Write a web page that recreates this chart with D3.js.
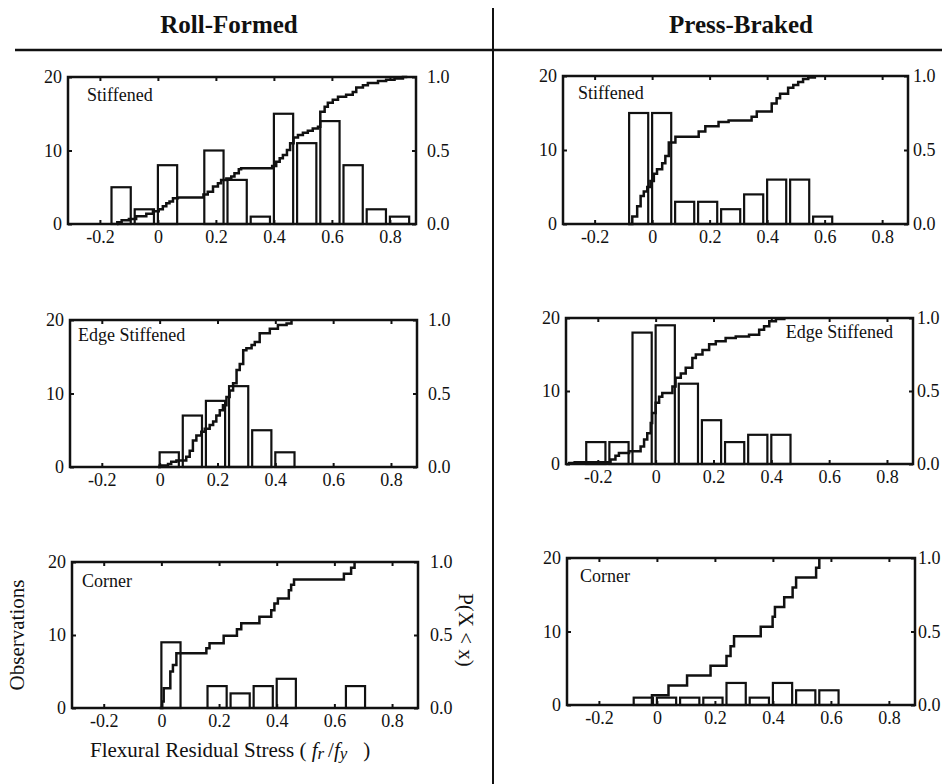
<!DOCTYPE html>
<html>
<head>
<meta charset="utf-8">
<script src="https://cdn.jsdelivr.net/npm/d3@7"></script>
<style>
  body { margin: 0; background: #fff; }
  svg text { font-family: "Liberation Serif", "Times New Roman", serif; fill: #111; }
</style>
</head>
<body>
<svg id="chart" width="952" height="784"></svg>
<script>
// histogram bins (left edges) shared by all panels, bin width 0.08
const binStarts = [-0.24, -0.16, -0.08, 0, 0.08, 0.16, 0.24, 0.32, 0.40, 0.48, 0.56, 0.64, 0.72, 0.80];
const binWidth = 0.08;

// observation counts per bin
const rfStiffenedCounts = [0, 5, 2, 8, 0, 10, 6, 1, 15, 11, 14, 8, 2, 1];
const pbStiffenedCounts = [0, 0, 15, 15, 3, 3, 2, 4, 6, 6, 1, 0, 0, 0];
const rfEdgeCounts      = [0, 0, 0, 2, 7, 9, 11, 5, 2, 0, 0, 0, 0, 0];
const pbEdgeCounts      = [3, 3, 18, 19, 11, 6, 3, 4, 4, 0, 0, 0, 0, 0];
const rfCornerCounts    = [0, 0, 0, 9, 0, 3, 2, 3, 4, 0, 0, 3, 0, 0];
const pbCornerCounts    = [0, 0, 1, 1, 1, 1, 3, 1, 3, 2, 2, 0, 0, 0];

// cumulative probability steps [x, P(X < x)]
const rfStiffenedCdf = [[-0.141, 0], [-0.14, 0.012], [-0.125, 0.025], [-0.10, 0.034], [-0.075, 0.052], [-0.04, 0.07],
  [-0.017, 0.086], [0.003, 0.10], [0.017, 0.12], [0.029, 0.142], [0.04, 0.153], [0.052, 0.176], [0.069, 0.18],
  [0.157, 0.20], [0.172, 0.22], [0.19, 0.255], [0.207, 0.278], [0.218, 0.30], [0.236, 0.31], [0.253, 0.323],
  [0.264, 0.345], [0.279, 0.372], [0.287, 0.379], [0.394, 0.395], [0.408, 0.424], [0.42, 0.447], [0.431, 0.47],
  [0.445, 0.503], [0.456, 0.549], [0.468, 0.589], [0.483, 0.605], [0.50, 0.62], [0.517, 0.634], [0.534, 0.65],
  [0.552, 0.661], [0.56, 0.763], [0.575, 0.797], [0.586, 0.824], [0.603, 0.846], [0.621, 0.865], [0.649, 0.88],
  [0.672, 0.898], [0.684, 0.928], [0.707, 0.944], [0.724, 0.959], [0.759, 0.973], [0.787, 0.982], [0.816, 0.989],
  [0.845, 1.0], [0.86, 1.0]];
const pbStiffenedCdf = [[-0.083, 0], [-0.069, 0.05], [-0.052, 0.12], [-0.04, 0.19], [-0.029, 0.22], [-0.017, 0.25],
  [-0.006, 0.29], [0.006, 0.34], [0.017, 0.37], [0.035, 0.41], [0.046, 0.46], [0.058, 0.55], [0.081, 0.59],
  [0.162, 0.625], [0.185, 0.66], [0.231, 0.69], [0.266, 0.70], [0.346, 0.725], [0.364, 0.76], [0.416, 0.815],
  [0.433, 0.85], [0.445, 0.88], [0.473, 0.92], [0.491, 0.94], [0.508, 0.96], [0.525, 0.98], [0.543, 0.99],
  [0.566, 1.0]];
const rfEdgeCdf = [[-0.006, 0], [0.0, 0.01], [0.029, 0.02], [0.04, 0.035], [0.058, 0.045], [0.092, 0.07],
  [0.104, 0.11], [0.115, 0.18], [0.127, 0.215], [0.144, 0.24], [0.156, 0.26], [0.173, 0.285], [0.185, 0.31],
  [0.196, 0.35], [0.208, 0.386], [0.219, 0.42], [0.231, 0.477], [0.242, 0.52], [0.254, 0.57], [0.266, 0.66],
  [0.277, 0.70], [0.289, 0.795], [0.30, 0.807], [0.318, 0.83], [0.329, 0.85], [0.346, 0.91], [0.381, 0.94],
  [0.409, 0.966], [0.439, 0.977], [0.456, 1.0]];
const pbEdgeCdf = [[-0.303, 0.007], [-0.28, 0.012], [-0.156, 0.03], [-0.139, 0.057], [-0.127, 0.075], [-0.092, 0.087],
  [-0.052, 0.12], [-0.04, 0.167], [-0.029, 0.21], [-0.017, 0.28], [-0.012, 0.35], [0.0, 0.42], [0.012, 0.46],
  [0.023, 0.486], [0.058, 0.53], [0.069, 0.59], [0.087, 0.62], [0.104, 0.66], [0.127, 0.726], [0.139, 0.75],
  [0.162, 0.78], [0.185, 0.82], [0.208, 0.84], [0.242, 0.863], [0.277, 0.874], [0.323, 0.886], [0.358, 0.92],
  [0.375, 0.943], [0.393, 0.977], [0.416, 0.993], [0.445, 1.0]];
const rfCornerCdf = [[-0.006, 0], [0.003, 0.045], [0.008, 0.136], [0.031, 0.25], [0.04, 0.295], [0.052, 0.375],
  [0.156, 0.41], [0.167, 0.443], [0.216, 0.495], [0.262, 0.54], [0.277, 0.58], [0.34, 0.625], [0.381, 0.67],
  [0.392, 0.716], [0.404, 0.75], [0.442, 0.806], [0.45, 0.845], [0.46, 0.88], [0.633, 0.92], [0.658, 0.96],
  [0.67, 1.0]];
const pbCornerCdf = [[-0.017, 0], [-0.017, 0.067], [0.04, 0.133], [0.104, 0.2], [0.185, 0.267], [0.24, 0.333],
  [0.254, 0.4], [0.266, 0.467], [0.358, 0.533], [0.399, 0.6], [0.407, 0.667], [0.439, 0.733], [0.468, 0.8],
  [0.48, 0.867], [0.549, 0.933], [0.56, 1.0]];

// axis ticks
const xTicks = [-0.2, 0, 0.2, 0.4, 0.6, 0.8];
const xTickLabels = ["-0.2", "0", "0.2", "0.4", "0.6", "0.8"];
const obsTicks = [0, 10, 20];
const probTicks = [0, 0.5, 1.0];

const ink = "#111";
const serif = '"Liberation Serif", "Times New Roman", serif';
const svg = d3.select("#chart");

// column headers and dividers
svg.append("text").attr("x", 229).attr("y", 33).attr("text-anchor", "middle")
  .style("font-size", "25px").style("font-weight", "bold").text("Roll-Formed");
svg.append("text").attr("x", 741).attr("y", 33).attr("text-anchor", "middle")
  .style("font-size", "25px").style("font-weight", "bold").text("Press-Braked");
svg.append("line").attr("x1", 15).attr("x2", 942).attr("y1", 50).attr("y2", 50)
  .attr("stroke", ink).attr("stroke-width", 2.5);
svg.append("line").attr("x1", 493).attr("x2", 493).attr("y1", 8).attr("y2", 784)
  .attr("stroke", ink).attr("stroke-width", 2);

const panels = [
  { left: 68, top: 77, w: 348, h: 147, rpad: 11, counts: rfStiffenedCounts, cdf: rfStiffenedCdf, label: "Stiffened", lx: 19, ly: 24, anchor: "start" },
  { left: 563, top: 76, w: 345, h: 148, rpad: 5, counts: pbStiffenedCounts, cdf: pbStiffenedCdf, label: "Stiffened", lx: 15, ly: 23, anchor: "start" },
  { left: 70, top: 320, w: 347, h: 147, rpad: 11, counts: rfEdgeCounts, cdf: rfEdgeCdf, label: "Edge Stiffened", lx: 8, ly: 21, anchor: "start" },
  { left: 566, top: 318, w: 347, h: 146, rpad: 4, counts: pbEdgeCounts, cdf: pbEdgeCdf, label: "Edge Stiffened", lx: 327, ly: 20, anchor: "end" },
  { left: 72, top: 562, w: 346, h: 146, rpad: 12, counts: rfCornerCounts, cdf: rfCornerCdf, label: "Corner", lx: 10, ly: 25, anchor: "start" },
  { left: 567, top: 558, w: 348, h: 147, rpad: 3, counts: pbCornerCounts, cdf: pbCornerCdf, label: "Corner", lx: 13, ly: 24, anchor: "start" }
];

function styleAxis(sel) {
  sel.attr("font-family", null).attr("font-size", null);
  sel.select(".domain").remove();
  sel.selectAll(".tick line").attr("stroke", ink).attr("stroke-width", 2);
  sel.selectAll(".tick text").style("font-family", serif).style("font-size", "18px").attr("fill", ink);
}

function drawPanel(p) {
  const g = svg.append("g").attr("transform", `translate(${p.left},${p.top})`);
  const x = d3.scaleLinear().domain([-0.31, 0.89]).range([0, p.w]);
  const yObs = d3.scaleLinear().domain([0, 20]).range([p.h, 0]);
  const yProb = d3.scaleLinear().domain([0, 1]).range([p.h, 0]);

  // histogram bars
  const bins = binStarts.map((s, i) => ({ start: s, count: p.counts[i] })).filter(d => d.count > 0);
  g.selectAll("rect.bar").data(bins).join("rect")
    .attr("class", "bar")
    .attr("x", d => x(d.start))
    .attr("y", d => yObs(d.count))
    .attr("width", d => (x(d.start + binWidth) - x(d.start)) * 0.83)
    .attr("height", d => yObs(0) - yObs(d.count))
    .attr("fill", "none").attr("stroke", ink).attr("stroke-width", 2.2);

  // cumulative step line
  const line = d3.line().x(d => x(d[0])).y(d => yProb(d[1])).curve(d3.curveStepAfter);
  g.append("path").datum(p.cdf).attr("d", line)
    .attr("fill", "none").attr("stroke", ink).attr("stroke-width", 2.5);

  // axes, ticks pointing inward
  g.append("g").attr("transform", `translate(0,${p.h})`)
    .call(d3.axisBottom(x).tickValues(xTicks).tickFormat((d, i) => xTickLabels[i]).tickSize(-4).tickPadding(6))
    .call(styleAxis);
  g.append("g")
    .call(d3.axisTop(x).tickValues(xTicks).tickFormat("").tickSize(-4))
    .call(styleAxis);
  g.append("g")
    .call(d3.axisLeft(yObs).tickValues(obsTicks).tickSize(-4).tickPadding(6))
    .call(styleAxis);
  g.append("g").attr("transform", `translate(${p.w},0)`)
    .call(d3.axisRight(yProb).tickValues(probTicks).tickFormat(d3.format(".1f")).tickSize(-4).tickPadding(p.rpad))
    .call(styleAxis);

  // frame
  g.append("rect").attr("width", p.w).attr("height", p.h)
    .attr("fill", "none").attr("stroke", ink).attr("stroke-width", 2.5);

  g.append("text").attr("x", p.lx).attr("y", p.ly).attr("text-anchor", p.anchor)
    .style("font-size", "18px").text(p.label);
}

panels.forEach(drawPanel);

// axis titles
svg.append("text").attr("transform", "translate(24,635) rotate(-90)").attr("text-anchor", "middle")
  .style("font-size", "21px").text("Observations");
svg.append("text").attr("transform", "translate(459,630) rotate(90)").attr("text-anchor", "middle")
  .style("font-size", "21px").text("P(X < x)");

const xt = svg.append("text").attr("x", 90).attr("y", 757).style("font-size", "21px");
xt.append("tspan").text("Flexural Residual Stress ( ");
xt.append("tspan").style("font-style", "italic").text("f");
xt.append("tspan").style("font-style", "italic").style("font-size", "17px").attr("dy", 2).text("r");
xt.append("tspan").attr("dy", -2).attr("dx", 4).text("/");
xt.append("tspan").style("font-style", "italic").text("f");
xt.append("tspan").style("font-style", "italic").style("font-size", "17px").attr("dy", 2).text("y");
xt.append("tspan").attr("dy", -2).attr("dx", 16).text(")");
</script>
</body>
</html>
